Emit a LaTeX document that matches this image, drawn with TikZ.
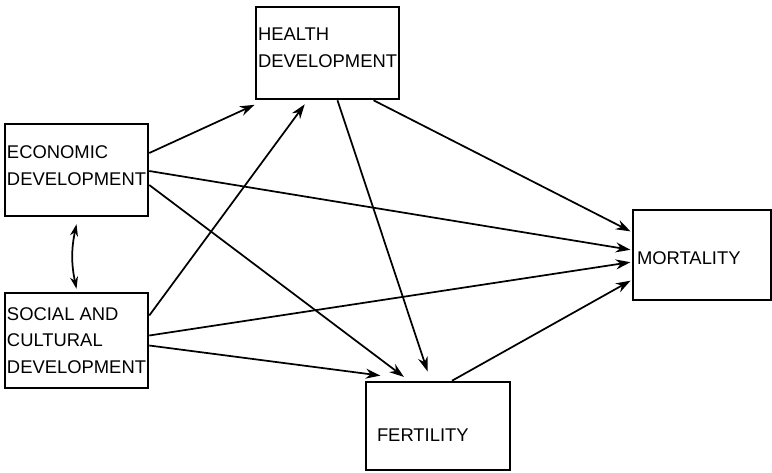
\documentclass[tikz,border=0pt]{standalone}
\usepackage{fontspec}
\setmainfont{Liberation Sans}
\usepackage{tikz}
\usetikzlibrary{calc,arrows.meta}
\tikzset{factor/.style={draw,line width=1.9pt,minimum width=107.25pt,minimum height=69pt,inner sep=0pt},
    factortext/.style={anchor=west,inner sep=0pt,align=left,font=\fontsize{13.8}{20}\selectfont},
    link/.style={line width=1.3pt,-{Stealth[length=11pt,width=7.5pt]},shorten >=1pt},
    twoway/.style={line width=1.3pt,{Stealth[length=9pt,width=6pt]}-{Stealth[length=9pt,width=6pt]}}}

\begin{document}
\begin{tikzpicture}[x=0.75pt,y=0.75pt,yscale=-1,xscale=1]
\useasboundingbox (0,0) rectangle (772,472);

%Boxes
\node[factor] (econ) at (76.5,170) {};
\node[factor,minimum height=71.25pt] (social) at (76.5,340.5) {};
\node[factor] (health) at (327.5,53) {};
\node[factor,minimum width=108pt,minimum height=66pt] (fert) at (438,426) {};
\node[factor,minimum width=103.5pt,minimum height=67.5pt] (mort) at (702,255) {};

% Text Node
\node[factortext] (econtxt) at ($(econ.west)+(3,-4.5)$) {ECONOMIC\\DEVELOPMENT};
% Text Node
\node[factortext] (socialtxt) at ($(social.west)+(3,0)$) {SOCIAL AND\\CULTURAL\\DEVELOPMENT};
% Text Node
\node[factortext] (healthtxt) at ($(health.west)+(3,-5.5)$) {HEALTH\\DEVELOPMENT};
% Text Node
\node[factortext] (ferttxt) at ($(fert.west)+(12,9)$) {FERTILITY};
% Text Node
\node[factortext] (morttxt) at ($(mort.west)+(5,3)$) {MORTALITY};

%Straight Lines
\draw[link] ($(econ.east)+(0,-17)$) -- ($(health.south west)+(1,4)$);
\draw[link] ($(econ.east)+(0,1)$) -- ($(mort.west)+(0,-5)$);
\draw[link] ($(econ.east)+(0,15)$) -- ($(fert.north)+(-33,-3)$);
\draw[link] ($(social.east)+(0,-25)$) -- ($(health.south)+(-22,3)$);
\draw[link] ($(social.east)+(0,-5)$) -- ($(mort.west)+(0,7)$);
\draw[link] ($(social.east)+(0,5)$) -- ($(fert.north west)+(17,-5)$);
\draw[link] ($(health.south)+(10,0)$) -- ($(fert.north)+(-10,-8)$);
\draw[link] ($(health.south)+(46,0)$) -- ($(mort.west)+(0,-23)$);
\draw[link] ($(fert.north)+(14,0)$) -- ($(mort.west)+(0,25)$);

%Curve Lines
\draw[twoway] ($(econ.south)+(0,7)$) to[bend left=12] ($(social.north)+(0,-3)$);

\end{tikzpicture}
\end{document}
